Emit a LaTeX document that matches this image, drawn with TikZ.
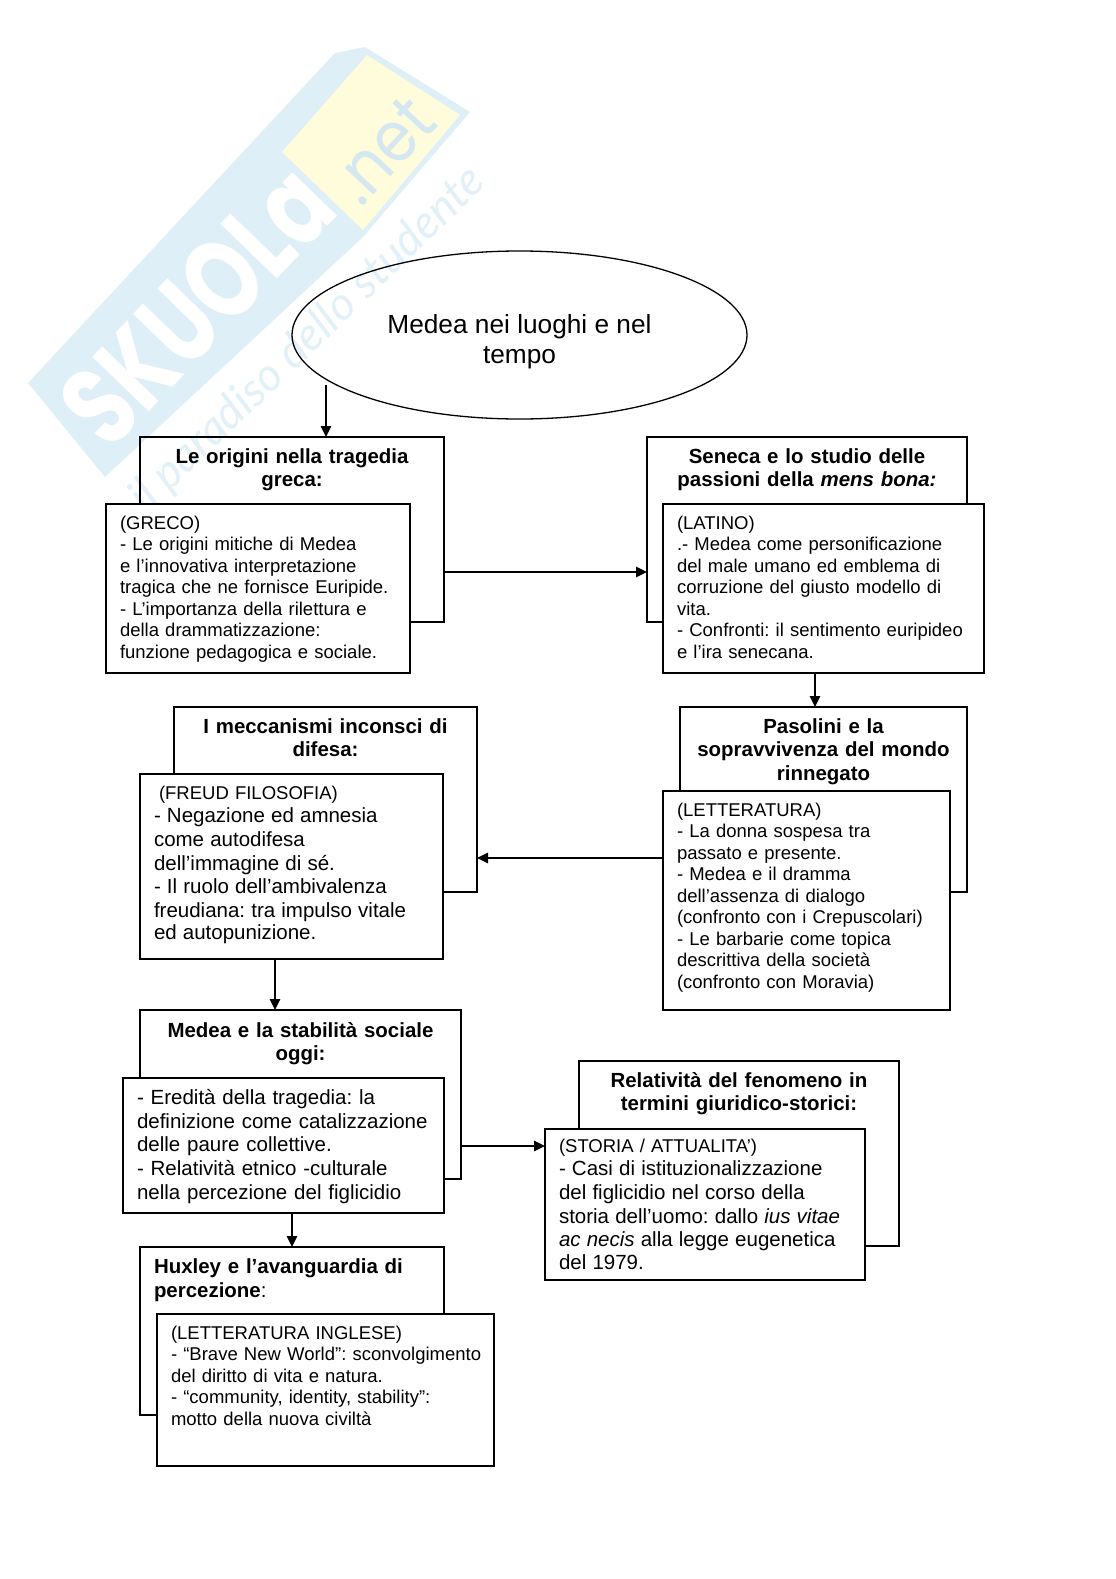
\documentclass[tikz,border=0pt]{standalone}
\usepackage{fontspec}
\setmainfont{Liberation Sans}
\newfontfamily\marchio{Poppins}
\newfontfamily\motto{Lato}
\usetikzlibrary{arrows.meta,shapes.geometric}

\newcommand{\corpo}{\frenchspacing\fontsize{18.5pt}{21.55pt}\selectfont}
\newcommand{\medio}{\frenchspacing\fontsize{20.5pt}{23.7pt}\selectfont}
\newcommand{\titolo}{\frenchspacing\fontsize{20.45pt}{23.7pt}\selectfont\bfseries}

\definecolor{fasciablu}{HTML}{DFEFF7}
\definecolor{fasciagialla}{HTML}{FFFCDC}
\definecolor{scrittablu}{HTML}{D5E8F2}
\definecolor{mottoblu}{HTML}{E2F0F7}

\tikzset{
    retro/.style 2 args={draw,line width=1.3pt,anchor=north west,inner sep=0pt,outer sep=0pt,
        text width=#1*1pt,text height=26pt,text depth=#2*1pt-26pt,align=center,font=\titolo},
    fronte/.style 2 args={draw,fill=white,line width=1.3pt,anchor=north west,inner ysep=0pt,inner xsep=14pt,outer sep=0pt,
        text width=#1*1pt-28pt,text height=25pt,text depth=#2*1pt-25pt,align=left,font=\corpo},
    freccia/.style={line width=1.3pt,-{Triangle[length=11pt,width=10.5pt]}}
}

\begin{document}
\begin{tikzpicture}[x=1pt,y=-1pt]
    \useasboundingbox (0,0) rectangle (1116,1579);

    % Watermark behind the map
    \fill[fasciablu] (28,383) -- (335,53) -- (365,47) -- (470,112) -- (363,237) -- (105,477) -- cycle;
    \fill[fasciagialla] (282,152) -- (367,55) -- (460,115) -- (363,230) -- cycle;
    \node[white,font=\marchio\fontsize{86pt}{86pt}\selectfont\bfseries,rotate=46,xscale=.98,yscale=1.3] (wmsigla) at (197,305) {SKUOLa};
    \node[scrittablu,font=\marchio\fontsize{62pt}{62pt}\selectfont,rotate=47,yscale=1.15] (wmnet) at (383,150) {.net};
    \node[mottoblu,font=\motto\fontsize{46pt}{46pt}\selectfont\itshape,rotate=44] (wmmotto) at (308,340) {il paradiso dello studente};

    % Title
    \node[draw,ellipse,line width=1.3pt,inner sep=0pt,minimum width=455pt,minimum height=168pt,align=center,
        font=\fontsize{26.25pt}{30.2pt}\selectfont] (medea) at (519.5,335) {\rule{0pt}{32pt}Medea nei luoghi e nel\\tempo};

    % Greek
    \node[retro={304}{185}] (origini) at (140,437) {Le origini nella tragedia\\greca:};
    \node[fronte={304}{169}] (greco) at (106,504) {(GRECO)\\- Le origini mitiche di Medea\\e l’innovativa interpretazione\\tragica che ne fornisce Euripide.\\- L’importanza della rilettura e\\della drammatizzazione:\\funzione pedagogica e sociale.};

    % Latin
    \node[retro={320}{185}] (seneca) at (647,437) {Seneca e lo studio delle\\passioni della \textit{mens bona:}};
    \node[fronte={321}{169}] (latino) at (663,504) {(LATINO)\\.- Medea come personificazione\\del male umano ed emblema di\\corruzione del giusto modello di\\vita.\\- Confronti: il sentimento euripideo\\e l’ira senecana.};

    % Freud
    \node[retro={303}{185}] (meccanismi) at (174,707) {I meccanismi inconsci di\\difesa:};
    \node[fronte={303}{185}] (freud) at (140,774) {\hspace*{5pt}(FREUD FILOSOFIA)\\\medio - Negazione ed amnesia\\come autodifesa\\dell’immagine di sé.\\- Il ruolo dell’ambivalenza\\freudiana: tra impulso vitale\\ed autopunizione.};

    % Pasolini
    \node[retro={287}{185}] (pasolini) at (680,707) {Pasolini e la\\sopravvivenza del mondo\\rinnegato};
    \node[fronte={287}{219}] (letteratura) at (663,791) {(LETTERATURA)\\- La donna sospesa tra\\passato e presente.\\- Medea e il dramma\\dell’assenza di dialogo\\(confronto con i Crepuscolari)\\- Le barbarie come topica\\descrittiva della società\\(confronto con Moravia)};

    % Today
    \node[retro={321}{169},text height=27pt,text depth=142pt] (stabilita) at (140,1010) {Medea e la stabilità sociale\\oggi:};
    \node[fronte={321}{135},font=\medio,text height=26.5pt,text depth=108.5pt] (eredita) at (123,1078) {- Eredità della tragedia: la\\definizione come catalizzazione\\delle paure collettive.\\- Relatività etnico -culturale\\nella percezione del figlicidio};

    % History
    \node[retro={320}{185}] (relativita) at (579,1061) {Relatività del fenomeno in\\termini giuridico-storici:};
    \node[fronte={320}{151},text height=23pt,text depth=128pt] (storia) at (545,1129) {(STORIA / ATTUALITA’)\\\medio - Casi di istituzionalizzazione\\del figlicidio nel corso della\\storia dell’uomo: dallo \textit{ius vitae}\\\textit{ac necis} alla legge eugenetica\\[1.5pt]del 1979.};

    % Huxley
    \node[retro={276}{168},inner xsep=14pt,align=left] (huxley) at (140,1247) {Huxley e l’avanguardia di\\[1pt]percezione\textmd{:}};
    \node[fronte={337}{152}] (inglese) at (157,1314) {(LETTERATURA INGLESE)\\\mbox{- “Brave New World”: sconvolgimento}\\del diritto di vita e natura.\\- “community, identity, stability”:\\motto della nuova civiltà};

    % Arrows
    \coordinate (attacco) at (326,385);
    \draw[freccia] (attacco) -- (attacco |- origini.north);
    \draw[freccia] ([yshift=-42.5pt]origini.east) -- ([yshift=-42.5pt]origini.east -| seneca.west);
    \draw[freccia] ([xshift=-8.5pt]latino.south) -- ([xshift=-8.5pt]latino.south |- pasolini.north);
    \draw[freccia] ([yshift=42.5pt]letteratura.west) -- ([yshift=42.5pt]letteratura.west -| meccanismi.east);
    \draw[freccia] ([xshift=-16.5pt]freud.south) -- ([xshift=-16.5pt]freud.south |- stabilita.north);
    \draw[freccia] ([yshift=-51.5pt]stabilita.east) -- ([yshift=-51.5pt]stabilita.east -| storia.west);
    \draw[freccia] ([xshift=8.5pt]eredita.south) -- ([xshift=8.5pt]eredita.south |- huxley.north);
\end{tikzpicture}
\end{document}
